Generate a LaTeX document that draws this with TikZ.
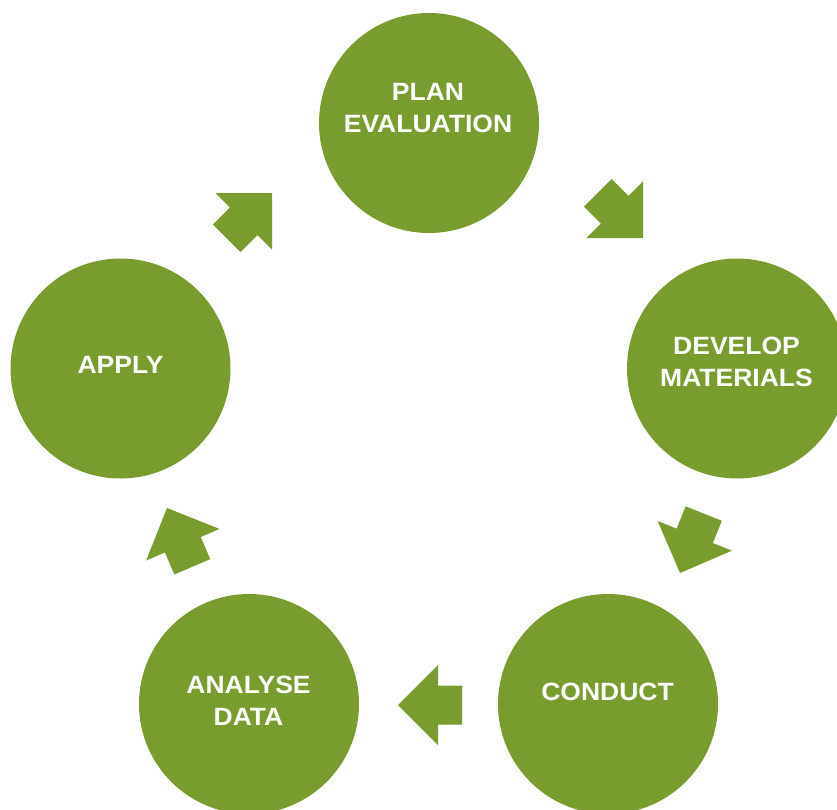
\documentclass[tikz,border=0pt]{standalone}
\usepackage{fontspec}
\newfontfamily\labelfont[FakeStretch=1.06]{Liberation Sans}
\definecolor{leaf}{RGB}{120,156,46}
\begin{document}
\begin{tikzpicture}[x=1pt,y=-1pt,
  stage/.style={circle, fill=leaf, minimum size=220pt, inner sep=0pt},
  caption/.style={text=white, font=\labelfont\bfseries\fontsize{25}{32}\selectfont,
    align=center, inner sep=0pt},
  blockarrow/.pic={\fill[leaf] (0,0) -- (-40,40) -- (-40,19.5) -- (-64,19.5)
    -- (-64,-19.5) -- (-40,-19.5) -- (-40,-40) -- cycle;}
]
\useasboundingbox (0,0) rectangle (837,809);
\clip (0,0) rectangle (837,809);

% the five stages of the cycle
\node[stage] (plan)    at (429,123)   {};
\node[stage] (develop) at (737,368.5) {};
\node[stage] (conduct) at (608,704)   {};
\node[stage] (analyse) at (249,704)   {};
\node[stage] (apply)   at (120.5,368.5) {};

\node[caption] (plantext)    at (428,108)     {PLAN\\EVALUATION};
\node[caption] (developtext) at (736.5,362)   {DEVELOP\\MATERIALS};
\node[caption] (conducttext) at (607.5,692)   {CONDUCT};
\node[caption] (analysetext) at (248.5,701)   {ANALYSE\\DATA};
\node[caption] (applytext)   at (120.5,364.5) {APPLY};

% block arrows between the stages (placed by their tips)
\pic[rotate=-45]    at (643,238) {blockarrow};
\pic[rotate=-111.7] at (680,573) {blockarrow};
\pic[rotate=180]    at (398,705) {blockarrow};
\pic[rotate=113.3]  at (167,508) {blockarrow};
\pic[rotate=45]     at (272,193) {blockarrow};
\end{tikzpicture}
\end{document}
